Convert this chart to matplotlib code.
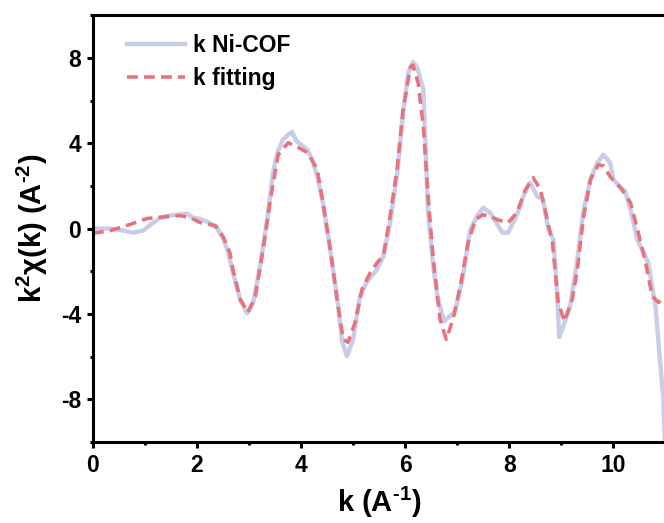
import matplotlib.pyplot as plt
from matplotlib.ticker import MultipleLocator

plt.rcParams['font.family'] = ['Liberation Sans', 'DejaVu Sans']
plt.rcParams['font.weight'] = 'bold'
plt.rcParams['axes.unicode_minus'] = False
plt.rcParams['mathtext.fontset'] = 'custom'
plt.rcParams['mathtext.rm'] = 'Liberation Sans:bold'
plt.rcParams['mathtext.it'] = 'Liberation Sans:bold'
plt.rcParams['mathtext.bf'] = 'Liberation Sans:bold'

# measured spectrum
k_exp = [0.00, 0.33, 0.55, 0.77, 0.96, 1.12, 1.29, 1.48, 1.65, 1.81, 1.92, 2.05,
         2.19, 2.38, 2.50, 2.58, 2.69, 2.83, 2.96, 3.08, 3.21, 3.35, 3.46, 3.55,
         3.65, 3.75, 3.83, 3.85, 3.92, 4.02, 4.12, 4.22, 4.31, 4.42, 4.56, 4.69,
         4.79, 4.88, 5.00, 5.13, 5.27, 5.46, 5.58, 5.71, 5.85, 5.96, 6.06, 6.15,
         6.23, 6.35, 6.44, 6.54, 6.63, 6.75, 6.96, 7.10, 7.25, 7.38, 7.50, 7.63,
         7.77, 7.87, 7.98, 8.15, 8.27, 8.40, 8.54, 8.65, 8.75, 8.85, 8.92, 8.96,
         9.04, 9.17, 9.31, 9.42, 9.56, 9.69, 9.81, 9.94, 10.00, 10.23, 10.33, 10.46,
         10.58, 10.67, 10.81, 10.90, 10.96, 10.99]
chi_exp = [0.00, 0.00, -0.08, -0.19, -0.10, 0.20, 0.51, 0.61, 0.66, 0.70, 0.51, 0.45,
           0.33, 0.05, -0.45, -0.98, -2.06, -3.32, -3.97, -3.46, -1.78, 0.42, 2.62, 3.60,
           4.16, 4.40, 4.53, 4.39, 4.07, 3.90, 3.69, 3.20, 2.43, 1.21, -0.98, -3.18,
           -5.33, -5.98, -5.19, -3.18, -2.48, -1.92, -1.31, 0.28, 2.62, 5.42, 7.29, 7.80,
           7.57, 6.50, 0.75, -1.78, -3.32, -4.35, -3.88, -2.38, -0.05, 0.56, 0.98, 0.75,
           0.19, -0.19, -0.19, 0.65, 1.50, 2.15, 1.50, 1.36, -0.05, -0.51, -2.99, -5.09,
           -4.58, -3.64, -1.45, 0.75, 2.29, 3.08, 3.46, 3.08, 2.29, 1.73, 0.89, -0.51,
           -1.12, -1.59, -3.64, -6.26, -7.85, -9.90]

# fitted curve
k_fit = [0.00, 0.33, 0.71, 1.04, 1.42, 1.67, 1.87, 2.06, 2.35, 2.50, 2.63, 2.69,
         2.83, 2.98, 3.12, 3.27, 3.40, 3.56, 3.75, 3.92, 4.13, 4.31, 4.42, 4.56,
         4.69, 4.81, 4.90, 5.04, 5.17, 5.33, 5.48, 5.58, 5.71, 5.85, 5.96, 6.10,
         6.15, 6.25, 6.35, 6.44, 6.54, 6.67, 6.79, 6.92, 7.06, 7.21, 7.35, 7.50,
         7.65, 7.79, 7.98, 8.15, 8.31, 8.46, 8.60, 8.73, 8.83, 8.88, 8.94, 9.06,
         9.21, 9.31, 9.42, 9.56, 9.71, 9.81, 9.94, 10.17, 10.33, 10.48, 10.62, 10.75,
         10.87, 10.96]
chi_fit = [-0.22, -0.10, 0.19, 0.47, 0.56, 0.61, 0.51, 0.28, 0.14, -0.37, -1.12, -1.92,
           -3.32, -3.93, -3.18, -0.98, 1.21, 3.46, 4.02, 3.83, 3.55, 2.76, 1.21, -0.98,
           -3.32, -5.19, -5.33, -4.39, -2.85, -2.06, -1.54, -1.31, 0.56, 2.90, 5.56, 7.57,
           7.66, 6.82, 4.77, 1.50, -1.45, -4.25, -5.19, -4.25, -2.71, -0.65, 0.42, 0.65,
           0.55, 0.40, 0.28, 0.75, 1.82, 2.38, 1.82, 0.42, -0.65, -1.92, -3.46, -4.35,
           -3.32, -1.92, 0.42, 2.29, 2.99, 2.94, 2.43, 1.82, 1.21, -0.19, -1.59, -3.18,
           -3.46, -3.22]

fig = plt.figure(figsize=(6.64, 5.23), dpi=100)
ax = fig.add_axes([0.140, 0.155, 0.862, 0.816])

ax.plot(k_exp, chi_exp, color='#c9cee8', lw=3.2, label='k Ni-COF')
ax.plot(k_fit, chi_fit, color='#e8737e', lw=2.6, ls=(0, (3.0, 1.7)), label='k fitting')

ax.set_xlim(0, 11)
ax.set_ylim(-10, 10)
ax.xaxis.set_major_locator(MultipleLocator(2))
ax.xaxis.set_minor_locator(MultipleLocator(1))
ax.yaxis.set_major_locator(MultipleLocator(4))
ax.yaxis.set_minor_locator(MultipleLocator(2))
ax.tick_params(which='major', direction='out', length=4.5, width=2.2, labelsize=16.5, pad=4)
ax.tick_params(which='minor', direction='out', length=2.5, width=2.2)
ax.tick_params(top=False, right=False, which='both')
for s in ['left', 'bottom', 'top']:
    ax.spines[s].set_linewidth(2.2)
ax.spines['right'].set_visible(False)

ax.set_xlabel('k (A$^{\u20101}$)', fontsize=21, fontweight='bold', labelpad=6)
ax.set_ylabel('k$^{2}$χ(k) (A$^{\u20102}$)', fontsize=21, fontweight='bold', labelpad=8)

leg = ax.legend(loc='upper left', frameon=False, fontsize=16.5, handlelength=2.5,
                handletextpad=0.35, borderpad=0, borderaxespad=0, labelspacing=0.42,
                bbox_to_anchor=(0.06, 0.955))

fig.savefig('out.png', dpi=100)
